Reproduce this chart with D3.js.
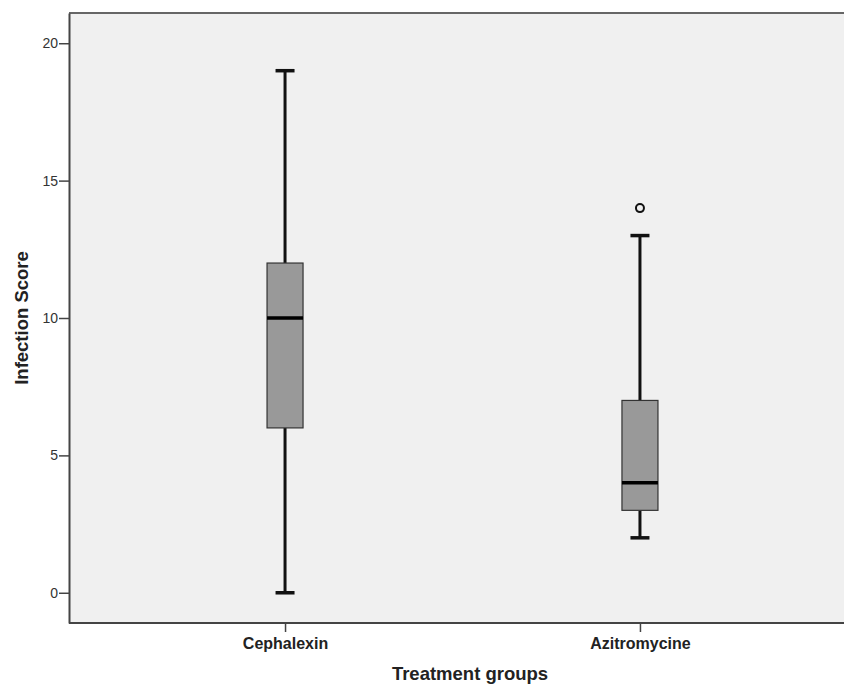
<!DOCTYPE html>
<html lang="en">
<head>
    <meta charset="UTF-8">
    <title>Infection Score by Treatment group</title>
    <script src="https://d3js.org/d3.v7.min.js"></script>
    <style>
        body {
            margin: 0;
            background: #fff;
            font-family: "Liberation Sans", Arial, sans-serif;
        }
        .y-axis .tick text {
            font-size: 14px;
            fill: #333;
        }
        .x-axis .tick text {
            font-size: 16px;
            font-weight: bold;
            fill: #222;
        }
        .axis-title {
            font-size: 18.5px;
            font-weight: bold;
            fill: #222;
        }
    </style>
</head>
<body>
    <svg id="chart" width="844" height="687"></svg>

    <script>
        // data
        const groups = ["Cephalexin", "Azitromycine"];
        const mins = [0, 2];
        const q1s = [6, 3];
        const medians = [10, 4];
        const q3s = [12, 7];
        const maxs = [19, 13];
        const outliers = [[], [14]];
        const yTicks = [0, 5, 10, 15, 20];

        const width = 844;
        const height = 687;
        const margin = { top: 13, right: 0, bottom: 64, left: 69 };
        const innerWidth = width - margin.left - margin.right;
        const innerHeight = height - margin.top - margin.bottom;

        const svg = d3.select("#chart");

        const g = svg.append("g")
            .attr("transform", `translate(${margin.left},${margin.top})`);

        // the original plot area runs a little past the right edge of the picture
        const xScale = d3.scalePoint().domain(groups).range([0, innerWidth + 12]).padding(0.6087);
        const yScale = d3.scaleLinear().domain([-1.1, 21.1]).range([innerHeight, 0]);

        g.append("rect")
            .attr("width", innerWidth)
            .attr("height", innerHeight)
            .attr("fill", "#f0f0f0");

        // top frame line
        g.append("line").attr("x1", 0).attr("x2", innerWidth).attr("y1", 0).attr("y2", 0)
            .attr("stroke", "#666").attr("stroke-width", 2);

        const yAxis = g.append("g")
            .attr("class", "y-axis")
            .call(d3.axisLeft(yScale).tickValues(yTicks).tickSize(10).tickPadding(1).tickSizeOuter(0));
        yAxis.select(".domain").attr("stroke", "#444").attr("stroke-width", 2);
        yAxis.selectAll(".tick line").attr("stroke", "#444").attr("stroke-width", 1.5);

        const xAxis = g.append("g")
            .attr("class", "x-axis")
            .attr("transform", `translate(0,${innerHeight})`)
            .call(d3.axisBottom(xScale).tickSize(9).tickPadding(6).tickSizeOuter(0));
        xAxis.select(".domain").remove();
        xAxis.selectAll(".tick line").attr("stroke", "#444").attr("stroke-width", 1.5);
        xAxis.append("line")
            .attr("x1", 0).attr("x2", innerWidth)
            .attr("stroke", "#444").attr("stroke-width", 2);

        const boxW = 36;
        const capW = 19;

        const box = g.selectAll(".box")
            .data(groups)
            .join("g")
            .attr("class", "box")
            .attr("transform", d => `translate(${xScale(d)},0)`);

        // whiskers
        box.append("line")
            .attr("y1", (d, i) => yScale(q3s[i]))
            .attr("y2", (d, i) => yScale(maxs[i]))
            .attr("stroke", "#111").attr("stroke-width", 3);
        box.append("line")
            .attr("y1", (d, i) => yScale(q1s[i]))
            .attr("y2", (d, i) => yScale(mins[i]))
            .attr("stroke", "#111").attr("stroke-width", 3);

        // caps
        box.append("line")
            .attr("x1", -capW / 2).attr("x2", capW / 2)
            .attr("y1", (d, i) => yScale(maxs[i]))
            .attr("y2", (d, i) => yScale(maxs[i]))
            .attr("stroke", "#111").attr("stroke-width", 3.5);
        box.append("line")
            .attr("x1", -capW / 2).attr("x2", capW / 2)
            .attr("y1", (d, i) => yScale(mins[i]))
            .attr("y2", (d, i) => yScale(mins[i]))
            .attr("stroke", "#111").attr("stroke-width", 3.5);

        // box
        box.append("rect")
            .attr("x", -boxW / 2)
            .attr("width", boxW)
            .attr("y", (d, i) => yScale(q3s[i]))
            .attr("height", (d, i) => yScale(q1s[i]) - yScale(q3s[i]))
            .attr("fill", "#999")
            .attr("stroke", "#333")
            .attr("stroke-width", 1.2);

        // median
        box.append("line")
            .attr("x1", -boxW / 2).attr("x2", boxW / 2)
            .attr("y1", (d, i) => yScale(medians[i]))
            .attr("y2", (d, i) => yScale(medians[i]))
            .attr("stroke", "#000").attr("stroke-width", 3.5);

        // outliers
        box.selectAll(".outlier")
            .data((d, i) => outliers[i])
            .join("circle")
            .attr("class", "outlier")
            .attr("cy", v => yScale(v))
            .attr("r", 4)
            .attr("fill", "none")
            .attr("stroke", "#111")
            .attr("stroke-width", 2);

        // axis titles
        svg.append("text")
            .attr("class", "axis-title")
            .attr("x", 470)
            .attr("y", 680)
            .attr("text-anchor", "middle")
            .text("Treatment groups");

        svg.append("text")
            .attr("class", "axis-title")
            .attr("transform", `translate(28,${margin.top + innerHeight / 2}) rotate(-90)`)
            .attr("text-anchor", "middle")
            .text("Infection Score");
    </script>
</body>
</html>
